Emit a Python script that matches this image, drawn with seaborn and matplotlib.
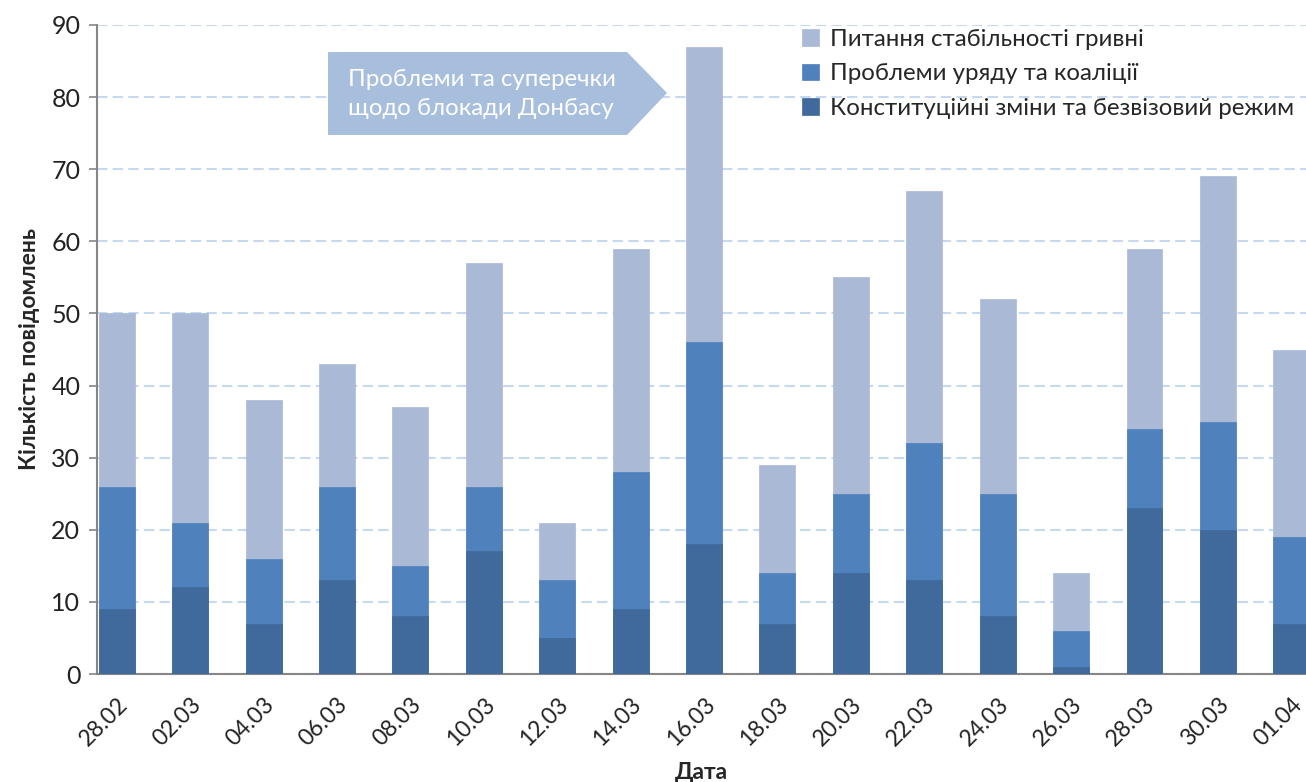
import matplotlib
matplotlib.use("Agg")
import matplotlib.pyplot as plt
from matplotlib.patches import Polygon
import pandas as pd
import seaborn as sns

dates = ['28.02', '02.03', '04.03', '06.03', '08.03', '10.03', '12.03', '14.03', '16.03',
         '18.03', '20.03', '22.03', '24.03', '26.03', '28.03', '30.03', '01.04']
constitution = [9, 12, 7, 13, 8, 17, 5, 9, 18, 7, 14, 13, 8, 1, 23, 20, 7]
government = [17, 9, 9, 13, 7, 9, 8, 19, 28, 7, 11, 19, 17, 5, 11, 15, 12]
hryvnia = [24, 29, 22, 17, 22, 31, 8, 31, 41, 15, 30, 35, 27, 8, 25, 34, 26]

labels = ['Питання стабільності гривні', 'Проблеми уряду та коаліції',
          'Конституційні зміни та безвізовий режим']
colors = ['#AAB9D6', '#4F81BD', '#416A9C']

df = pd.DataFrame({'date': dates, 'c': constitution, 'g': government, 'h': hryvnia})
df['cg'] = df['c'] + df['g']
df['total'] = df['cg'] + df['h']

sns.set_style('white')
plt.rcParams['font.family'] = ['Lato', 'DejaVu Sans']

W, H = 1306, 782
fig = plt.figure(figsize=(W / 100, H / 100), dpi=100)
ax = fig.add_axes([97 / W, 1 - 674 / H, 1 - 97 / W, (674 - 25) / H])

# stacked bars: draw cumulative heights from the top layer down
for col, color, label in zip(['total', 'cg', 'c'], colors, labels):
    sns.barplot(data=df, x='date', y=col, color=color, width=0.49, label=label,
                ax=ax, saturation=1, edgecolor=color, linewidth=0.5, zorder=3)

ax.set_ylim(0, 90)
ax.set_yticks(range(0, 91, 10))
ax.set_xlim(-0.27, 16.2)
ax.yaxis.grid(True, linestyle=(0, (5, 2.5)), color='#C6D9F1', linewidth=1.5, zorder=0)
ax.set_axisbelow(True)

for side in ['top', 'right']:
    ax.spines[side].set_visible(False)
for side in ['left', 'bottom']:
    ax.spines[side].set_color('#868686')
    ax.spines[side].set_linewidth(1.5)

ax.tick_params(axis='y', labelsize=18, colors='#868686', labelcolor='#222222',
               length=6, width=1.2, left=True, pad=6)
ax.tick_params(axis='x', labelsize=16.5, labelcolor='#222222', length=0, pad=14)
plt.setp(ax.get_xticklabels(), rotation=45, ha='right', rotation_mode='anchor')

ax.set_ylabel('Кількість повідомлень', fontsize=16.5, fontweight='bold', labelpad=8)
ax.set_xlabel('Дата', fontsize=16.5, fontweight='bold', labelpad=9)

leg = ax.legend(loc='upper right', bbox_to_anchor=(1.0, 1.012), frameon=False,
                fontsize=17.3, handlelength=0.7, handleheight=0.7, handletextpad=0.45,
                labelspacing=0.55, borderaxespad=0.1)

# callout arrow box (pixel coordinates, origin at bottom left)
pts = [(328, 52), (627, 52), (667, 93), (627, 135), (328, 135)]
box = Polygon([(x, H - y) for x, y in pts], closed=True, transform=None,
              facecolor='#A7BEDD', edgecolor='none', zorder=5)
fig.patches.append(box)
fig.text(348 / W, 1 - 94 / H, 'Проблеми та суперечки\nщодо блокади Донбасу',
         color='white', fontsize=17.3, va='center', ha='left', linespacing=1.45, zorder=6)

fig.savefig('out.png', dpi=100)
